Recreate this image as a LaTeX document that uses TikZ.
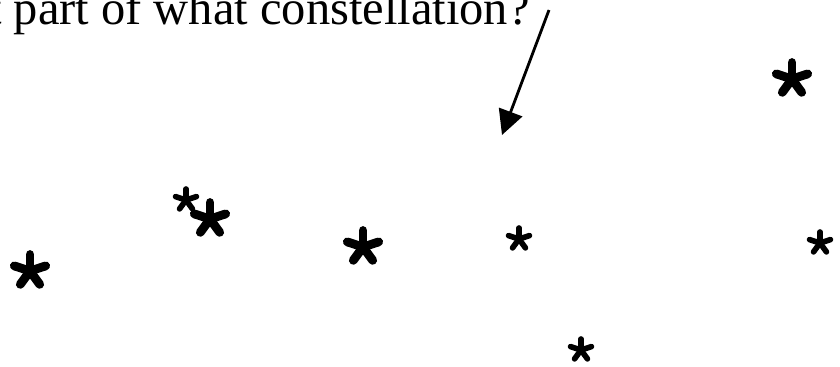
\documentclass[tikz,border=0pt]{standalone}
\usepackage{fontspec}
\setmainfont{Liberation Serif}
\usetikzlibrary{arrows.meta,calc}
\tikzset{
	starbig/.style={line width=5pt, line cap=round},
	starsmall/.style={line width=3.2pt, line cap=round},
	ptr/.style={-{Triangle[length=14pt,width=14pt]}, line width=1.6pt},
	question/.style={anchor=base east, inner sep=0pt, font=\fontsize{27.6}{32}\selectfont}
}
% asterisk: centre, spoke length, style
\newcommand{\skystar}[3]{\foreach \a in {270,342,54,126,198} \draw[#3] (#1) -- ++(\a:#2);}

\begin{document}
\begin{tikzpicture}[x=0.02cm, y=-0.02cm]
	\useasboundingbox (0,0) rectangle (840,366);
	\node[question] (q) at (530,24) {t part of what constellation?};
	\coordinate (tip) at (502,135);
	\draw[ptr] ($(q.base east)+(19,-14)$) -- (tip);
	% big stars
	\skystar{30,271}{16.5}{starbig}
	\skystar{210,219}{16.5}{starbig}
	\skystar{363,247}{16.5}{starbig}
	\skystar{792,79}{16.5}{starbig}
	% small stars
	\skystar{186,200}{11}{starsmall}
	\skystar{519,239}{11}{starsmall}
	\skystar{820,243}{11}{starsmall}
	\skystar{581,350}{11}{starsmall}
\end{tikzpicture}
\end{document}
